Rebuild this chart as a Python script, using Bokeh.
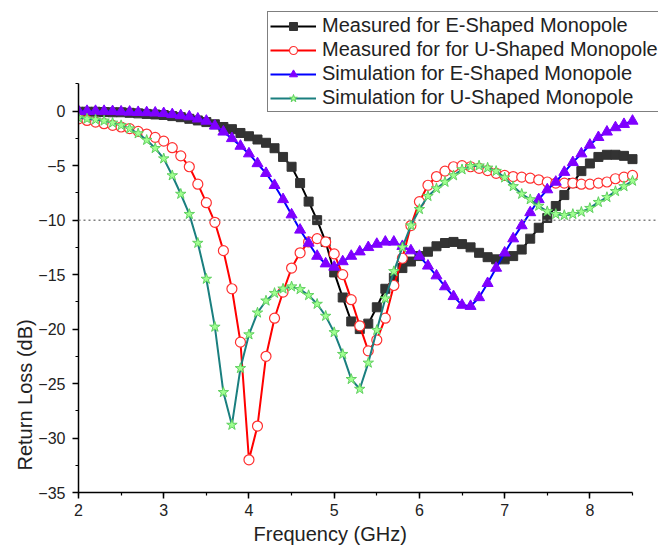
from bokeh.plotting import figure
from bokeh.models import (Span, Legend, LegendItem, Title, SingleIntervalTicker, Range1d)
from bokeh.embed import file_html
from bokeh.resources import INLINE

freq = [2.0, 2.1, 2.2, 2.3, 2.4, 2.5, 2.6, 2.7, 2.8, 2.9,
        3.0, 3.1, 3.2, 3.3, 3.4, 3.5, 3.6, 3.7, 3.8, 3.9,
        4.0, 4.1, 4.2, 4.3, 4.4, 4.5, 4.6, 4.7, 4.8, 4.9,
        5.0, 5.1, 5.2, 5.3, 5.4, 5.5, 5.6, 5.7, 5.8, 5.9,
        6.0, 6.1, 6.2, 6.3, 6.4, 6.5, 6.6, 6.7, 6.8, 6.9,
        7.0, 7.1, 7.2, 7.3, 7.4, 7.5, 7.6, 7.7, 7.8, 7.9,
        8.0, 8.1, 8.2, 8.3, 8.4, 8.5]

meas_e = [-0.05, -0.05, -0.05, -0.08, -0.1, -0.1, -0.15, -0.2, -0.25, -0.3,
          -0.35, -0.45, -0.55, -0.7, -0.85, -1.0, -1.2, -1.45, -1.65, -2.0,
          -2.3, -2.6, -2.9, -3.4, -4.2, -5.1, -6.6, -8.3, -10.0, -12.0,
          -14.8, -17.1, -19.3, -20.0, -19.5, -18.0, -16.3, -15.3, -14.4, -13.8,
          -13.3, -12.9, -12.4, -12.1, -12.0, -12.2, -12.5, -13.0, -13.4, -13.6,
          -13.6, -13.3, -12.7, -11.7, -10.7, -9.8, -8.7, -7.7, -6.6, -5.5,
          -4.8, -4.2, -4.0, -4.0, -4.1, -4.4]

meas_u = [-0.7, -0.85, -1.0, -1.15, -1.3, -1.45, -1.6, -1.85, -2.1, -2.4,
          -2.75, -3.35, -4.1, -5.1, -6.7, -8.4, -10.2, -12.8, -16.3, -21.2,
          -32.0, -28.9, -22.5, -19.0, -16.6, -14.4, -13.0, -12.0, -11.7, -12.0,
          -13.1, -15.0, -17.3, -19.7, -22.0, -21.0, -19.0, -16.0, -13.5, -10.5,
          -8.3, -6.8, -6.0, -5.5, -5.1, -5.0, -5.1, -5.25, -5.45, -5.7,
          -5.9, -6.0, -6.05, -6.15, -6.3, -6.5, -6.6, -6.6, -6.6, -6.7,
          -6.7, -6.6, -6.5, -6.2, -6.05, -5.9]

sim_e = [0.0, 0.0, 0.0, 0.0, -0.02, -0.05, -0.07, -0.1, -0.12, -0.15,
         -0.2, -0.3, -0.4, -0.5, -0.7, -0.9, -1.35, -1.9, -2.5, -3.2,
         -3.9, -4.8, -5.7, -6.8, -8.1, -9.5, -10.9, -12.1, -13.3, -14.0,
         -14.3, -13.8, -13.3, -12.9, -12.5, -12.2, -12.0, -12.0, -12.4, -12.8,
         -13.3, -14.2, -15.1, -16.1, -17.0, -17.8, -17.9, -17.1, -15.8, -14.4,
         -13.0, -11.7, -10.5, -9.3, -8.1, -7.2, -6.5, -5.6, -4.7, -3.9,
         -3.1, -2.4, -1.9, -1.5, -1.2, -0.9]

sim_u = [-0.6, -0.7, -0.78, -0.88, -1.07, -1.3, -1.6, -2.05, -2.65, -3.4,
         -4.35, -5.9, -7.6, -9.45, -12.1, -15.4, -19.8, -25.8, -28.8, -23.6,
         -20.5, -18.5, -17.4, -16.7, -16.3, -16.1, -16.35, -16.9, -17.7, -18.8,
         -20.3, -22.3, -24.6, -25.5, -23.1, -20.1, -17.2, -14.7, -12.5, -10.5,
         -9.0, -7.8, -7.1, -6.5, -5.9, -5.35, -5.05, -5.0, -5.2, -5.5,
         -6.1, -6.9, -7.6, -8.1, -8.7, -9.2, -9.45, -9.55, -9.45, -9.25,
         -8.9, -8.35, -7.9, -7.35, -6.9, -6.4]

labels = ["Measured for E-Shaped Monopole",
          "Measured for for U-Shaped Monopole",
          "Simulation for E-Shaped Monopole",
          "Simulation for U-Shaped Monopole"]

x_label = "Frequency (GHz)"
y_label = "Return Loss (dB)"
threshold = -10
x_bounds = (2, 8.5)
y_bounds = (-35, 2.5)

FONT = "Liberation Sans"

# frame reaches the top and right edges so that the legend can sit above the axes
p = figure(width=658, height=549, output_backend="svg", toolbar_location=None,
           x_range=Range1d(2, 8.805), y_range=Range1d(-35, 10.16),
           min_border_left=78, min_border_right=0, min_border_top=0,
           min_border_bottom=57)
p.outline_line_color = None
p.xgrid.visible = False
p.ygrid.visible = False
p.background_fill_color = "white"
p.border_fill_color = "white"

for ax in (p.xaxis[0], p.yaxis[0]):
    ax.axis_line_color = "black"
    ax.axis_line_width = 1.5
    ax.major_tick_line_color = "black"
    ax.minor_tick_line_color = "black"
    ax.major_tick_line_width = 1.5
    ax.minor_tick_line_width = 1.2
    ax.major_tick_out = 6
    ax.major_tick_in = 0
    ax.minor_tick_out = 3
    ax.minor_tick_in = 0
    ax.major_label_text_font = FONT
    ax.major_label_text_font_size = "16px"
    ax.major_label_text_color = "#222222"

p.xaxis.bounds = x_bounds
p.yaxis.bounds = y_bounds
p.xaxis.ticker = SingleIntervalTicker(interval=1, num_minor_ticks=2)
p.yaxis.ticker = SingleIntervalTicker(interval=5, num_minor_ticks=2)
p.xaxis.major_label_standoff = 5
p.yaxis.major_label_standoff = 7

p.add_layout(Span(location=threshold, dimension="width", line_color="#808080",
                  line_dash="2 3", line_width=1.5))

r1l = p.line(freq, meas_e, line_color="black", line_width=2)
r1m = p.scatter(freq, meas_e, marker="square", size=9, fill_color="#333333",
                line_color="#333333")
r2l = p.line(freq, meas_u, line_color="#ff0000", line_width=2)
r2m = p.scatter(freq, meas_u, marker="circle", size=10, fill_color="white",
                line_color="#ff3030", line_width=1.2)
r3l = p.line(freq, sim_e, line_color="#0000ff", line_width=2)
r3m = p.scatter(freq, sim_e, marker="triangle", size=11, fill_color="#7f00ff",
                line_color="#7f00ff")
r4l = p.line(freq, sim_u, line_color="#1a7f7f", line_width=2)
r4m = p.scatter(freq, sim_u, marker="star", size=11, fill_color="#a0ff90",
                line_color="#60d060", line_width=1)

legend = Legend(items=[
    LegendItem(label=labels[0], renderers=[r1l, r1m]),
    LegendItem(label=labels[1], renderers=[r2l, r2m]),
    LegendItem(label=labels[2], renderers=[r3l, r3m]),
    LegendItem(label=labels[3], renderers=[r4l, r4m]),
], location=(189, 380))
legend.border_line_color = "black"
legend.border_line_width = 1
legend.background_fill_color = "white"
legend.background_fill_alpha = 1
legend.label_text_font = FONT
legend.label_text_font_size = "20px"
legend.label_text_color = "#222222"
legend.glyph_width = 46
legend.glyph_height = 20
legend.label_height = 20
legend.spacing = 1
legend.padding = 2
legend.margin = 0
legend.label_standoff = 6
p.add_layout(legend, "center")

xt = Title(text=x_label, text_font=FONT, text_font_size="20px",
           text_font_style="normal", text_color="#222222", align="left",
           offset=175, standoff=4)
p.add_layout(xt, "below")
yt = Title(text=y_label, text_font=FONT, text_font_size="20px",
           text_font_style="normal", text_color="#222222", align="left",
           offset=22, standoff=0)
p.add_layout(yt, "left")

open("out.html", "w").write(file_html(p, INLINE))
